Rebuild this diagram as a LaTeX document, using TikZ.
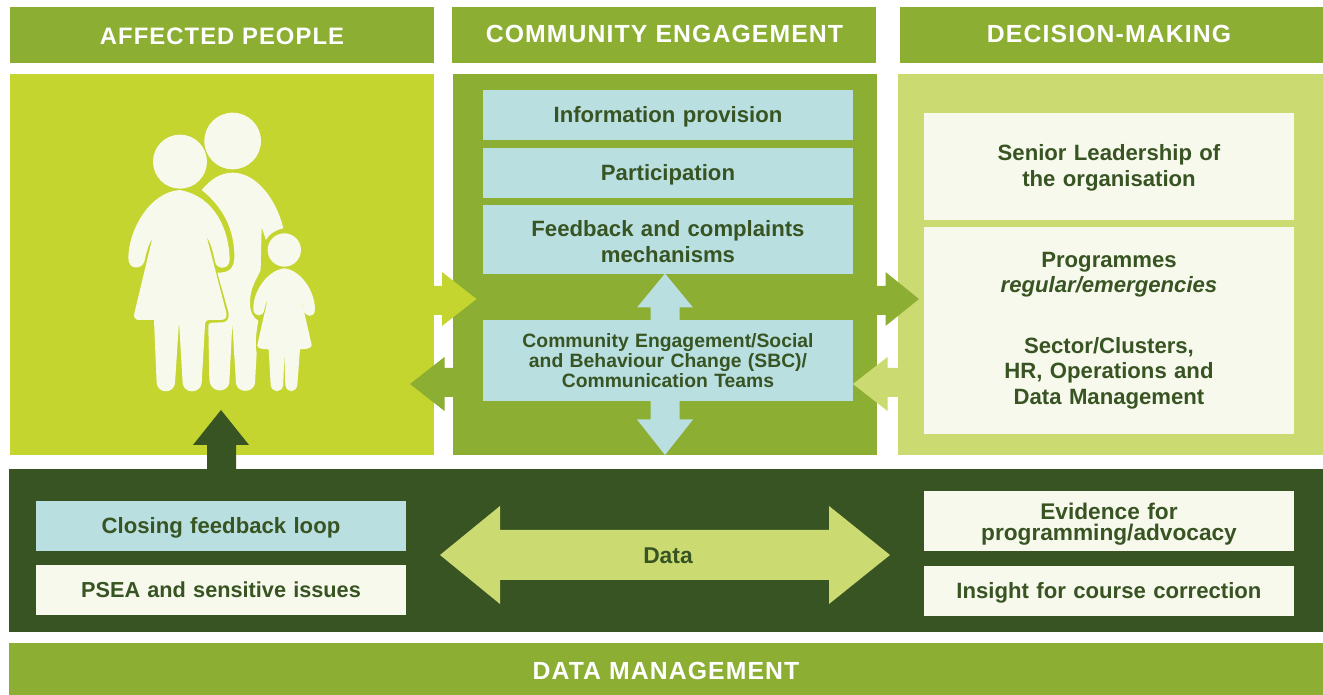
\documentclass[tikz,border=0pt]{standalone}
\usepackage{fontspec}
\setmainfont{Liberation Sans}
\newfontfamily\headfont[LetterSpace=4.5]{Liberation Sans}
\definecolor{limegreen}{HTML}{C4D52F}
\definecolor{midgreen}{HTML}{8BAE33}
\definecolor{palegreen}{HTML}{CBDB72}
\definecolor{darkgreen}{HTML}{385423}
\definecolor{paleblue}{HTML}{B9DFE0}
\definecolor{cream}{HTML}{F7F9EC}
\newcommand{\toplift}[1]{\rule{0pt}{#1}}
\tikzset{
    headbar/.style={fill=midgreen, text=white, inner sep=0, minimum width=424*0.02cm, minimum height=56*0.02cm, text depth=0pt, font=\headfont\fontsize{14.1}{16}\selectfont\bfseries},
    infobox/.style={inner sep=0, minimum width=7.4cm, text width=7.2cm, align=center, text=darkgreen, font=\fontsize{12.6}{14.4}\selectfont\bfseries},
    bluebox/.style={infobox, fill=paleblue},
    creambox/.style={infobox, fill=cream},
    oneline/.style={text height=9pt, text depth=0pt},
}
\begin{document}
\begin{tikzpicture}[x=0.02cm, y=-0.02cm]
    \useasboundingbox (0,0) rectangle (1323,695);

    % header bars
    \node[headbar, text height=10.5pt, font=\headfont\fontsize{13.55}{16}\selectfont\bfseries] (affectedhead) at (222,35) {AFFECTED PEOPLE};
    \node[headbar, text height=8.7pt] (communityhead) at (663.5,35) {\hspace{0.4mm}COMMUNITY ENGAGEMENT};
    \node[headbar, text height=8.7pt, minimum width=423*0.02cm] (decisionhead) at (1111.5,35) {DECISION-MAKING\kern1mm};
    \node[headbar, text height=11.4pt, minimum width=1314*0.02cm, minimum height=52*0.02cm] (datahead) at (666,669) {DATA MANAGEMENT};

    % panels
    \fill[limegreen] (10,74) rectangle (434,455);
    \fill[midgreen] (453,74) rectangle (877,455);
    \fill[palegreen] (898,74) rectangle (1323,455);
    \fill[darkgreen] (9,469) rectangle (1323,632);

    % family
    \begin{scope}[shift={(100,90)}, x=0.02cm/3, y=-0.02cm/3, fill=cream]
        \fill (398,153) circle(85);
        \fill (240,215) circle(81);
        \fill (553,480) circle(50);
        % woman
        \fill (240,300) .. controls (345,320) and (388,420) .. (389,510)
            .. controls (388,540) and (350,540) .. (345,515)
            .. controls (340,490) and (335,465) .. (320,440) -- (378,665)
            .. controls (383,685) and (375,690) .. (360,690) -- (330,690)
            .. controls (318,690) and (316,695) .. (315,705) -- (305,880)
            .. controls (300,912) and (252,912) .. (248,880) -- (237,695) -- (225,880)
            .. controls (220,912) and (175,912) .. (170,880) -- (162,690) -- (115,690)
            .. controls (105,690) and (100,680) .. (103,670) -- (157,445)
            .. controls (142,470) and (138,495) .. (133,515)
            .. controls (125,540) and (85,540) .. (85,505)
            .. controls (85,420) and (150,305) .. (240,300) -- cycle;
        % man
        \fill (305,300) .. controls (330,270) and (360,248) .. (398,248)
            .. controls (470,248) and (530,330) .. (550,415)
            .. controls (525,420) and (505,435) .. (498,450) -- (485,412) -- (482,540)
            .. controls (470,570) and (450,590) .. (450,640)
            .. controls (450,665) and (460,685) .. (475,692)
            .. controls (468,730) and (465,760) .. (470,790) -- (465,880)
            .. controls (460,910) and (412,910) .. (408,880) -- (397,700) -- (388,880)
            .. controls (380,910) and (332,910) .. (328,870) -- (325,710)
            .. controls (325,700) and (330,698) .. (340,698) -- (370,697)
            .. controls (385,695) and (388,680) .. (385,665) -- (352,548)
            .. controls (385,548) and (405,540) .. (403,490)
            .. controls (400,400) and (355,340) .. (305,300) -- cycle;
        % child
        \fill (553,535) .. controls (600,540) and (645,600) .. (645,660)
            .. controls (643,685) and (615,682) .. (612,660)
            .. controls (610,648) and (608,638) .. (604,628) -- (635,765)
            .. controls (635,775) and (620,778) .. (600,778) -- (592,885)
            .. controls (588,910) and (560,910) .. (556,885) -- (553,785) -- (550,885)
            .. controls (545,910) and (517,910) .. (512,885) -- (506,778)
            .. controls (485,778) and (470,775) .. (472,765) -- (503,628)
            .. controls (497,640) and (495,650) .. (492,662)
            .. controls (488,682) and (460,682) .. (460,655)
            .. controls (460,600) and (505,540) .. (553,535) -- cycle;
    \end{scope}

    % community boxes
    \node[bluebox, oneline, minimum height=1cm] (infoprovision) at (668,115) {Information provision};
    \node[bluebox, oneline, minimum height=1cm] (participation) at (668,173) {Participation};
    \node[bluebox, minimum height=69*0.02cm] (feedback) at (668,239.5) {\toplift{11.5pt}Feedback and complaints\\mechanisms};
    \node[bluebox, minimum height=81*0.02cm, font=\fontsize{11}{11.5}\selectfont\bfseries] (teams) at (668,360.5) {Community Engagement/Social\\and Behaviour Change (SBC)/\\Communication Teams};

    % decision boxes
    \node[creambox, minimum height=107*0.02cm] (leadership) at (1109,166.5) {\toplift{10.5pt}Senior Leadership of\\the organisation};
    \node[creambox, minimum height=207*0.02cm] (programmes) at (1109,330.5) {Programmes\\\textit{regular/emergencies}\\[0.71cm]Sector/Clusters,\\HR, Operations and\\Data Management};

    % bottom boxes
    \node[bluebox, oneline, minimum height=1cm] (closing) at (221,526) {Closing feedback loop};
    \node[creambox, oneline, minimum height=1cm, font=\fontsize{12.35}{14.4}\selectfont\bfseries] (psea) at (221,590) {PSEA and sensitive issues};
    \node[creambox, minimum height=60*0.02cm, font=\fontsize{12.9}{12}\selectfont\bfseries] (evidence) at (1109,521) {\toplift{13pt}Evidence for\\programming/advocacy};
    \node[creambox, oneline, minimum height=1cm] (insight) at (1109,591) {Insight for course correction};

    % arrows
    \fill[limegreen] (434,286) -- (442,286) -- (442,272) -- (476.5,299) -- (442,326) -- (442,315) -- (434,315) -- cycle;
    \fill[midgreen] (877,286) -- (885.5,286) -- (885.5,272) -- (919,299) -- (885.5,326) -- (885.5,315) -- (877,315) -- cycle;
    \fill[midgreen] (453,368) -- (444.5,368) -- (444.5,357) -- (410,384) -- (444.5,411) -- (444.5,397) -- (453,397) -- cycle;
    \fill[palegreen] (898,368) -- (887.5,368) -- (887.5,357) -- (853,384) -- (887.5,411) -- (887.5,397) -- (898,397) -- cycle;
    \fill[paleblue] (650.5,320) -- (650.5,307.5) -- (637,307.5) -- (665,273.5) -- (693,307.5) -- (679.5,307.5) -- (679.5,320) -- cycle;
    \fill[paleblue] (650.5,401) -- (650.5,419.5) -- (637,419.5) -- (665,455) -- (693,419.5) -- (679.5,419.5) -- (679.5,401) -- cycle;
    \fill[darkgreen] (207,469) -- (207,445) -- (193,445) -- (221,410) -- (249,445) -- (236,445) -- (236,469) -- cycle;
    \fill[palegreen] (440,555) -- (500,506) -- (500,530) -- (829,530) -- (829,506) -- (890,555) -- (829,604) -- (829,580) -- (500,580) -- (500,604) -- cycle;
    \node[text=darkgreen, inner sep=0, font=\fontsize{13}{14.6}\selectfont\bfseries] (datalabel) at (668,556) {Data};
\end{tikzpicture}
\end{document}
